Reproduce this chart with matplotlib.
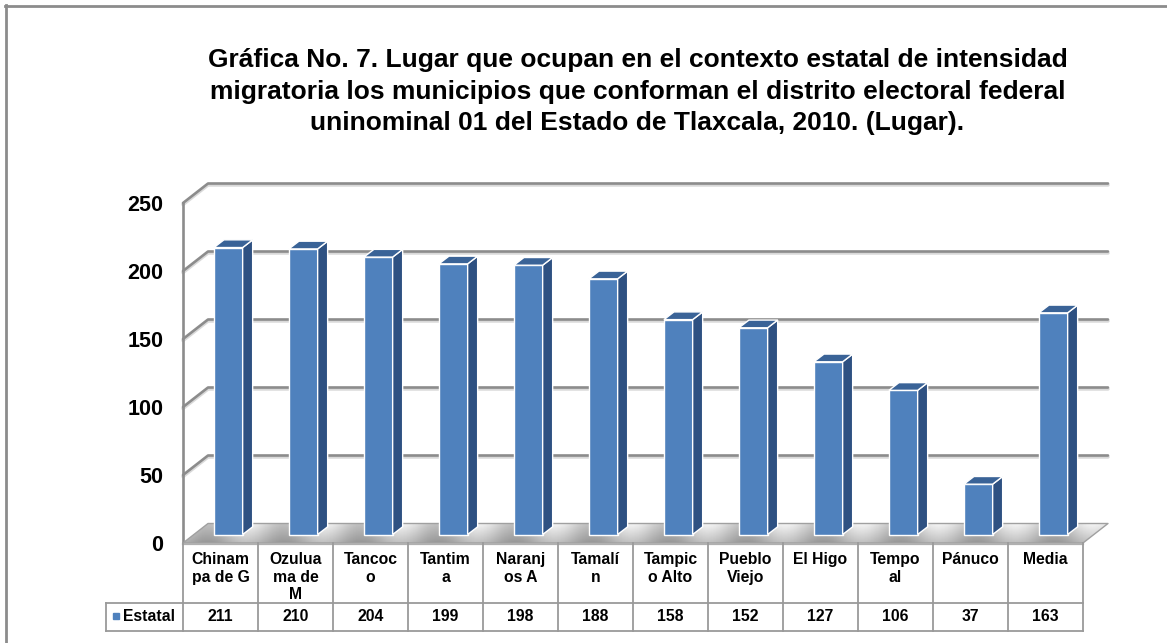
import matplotlib
matplotlib.use('Agg')
import matplotlib.pyplot as plt
from matplotlib.patches import Polygon
from matplotlib.lines import Line2D
import numpy as np

# ---------------- data ----------------
categories = ["Chinam\npa de G", "Ozulua\nma de\nM", "Tancoc\no", "Tantim\na",
              "Naranj\nos A", "Tamalí\nn", "Tampic\no Alto", "Pueblo\nViejo",
              "El Higo", "Tempo\nal", "Pánuco", "Media"]
values = [211, 210, 204, 199, 198, 188, 158, 152, 127, 106, 37, 163]
series_name = "Estatal"
yticks = [0, 50, 100, 150, 200, 250]
title_lines = ["Gráfica No. 7. Lugar que ocupan en el contexto estatal de intensidad",
               "migratoria los municipios que conforman el distrito electoral federal",
               "uninominal 01 del Estado de Tlaxcala, 2010. (Lugar)."]

plt.rcParams['font.family'] = ['Liberation Sans', 'DejaVu Sans']

W, H = 1167, 643
fig = plt.figure(figsize=(W / 100, H / 100), dpi=100)

X0, X1 = 183, 1083      # front plane, pixels
Y0, Ytop = 543, 203
ax = fig.add_axes([X0 / W, (H - Y0) / H, (X1 - X0) / W, (Y0 - Ytop) / H])
n = len(values)
PXX = (X1 - X0) / n
PXY = (Y0 - Ytop) / (yticks[-1] - yticks[0])


def xu(px):
    return px / PXX


def yu(px):
    return px / PXY


for s in ax.spines.values():
    s.set_visible(False)
ax.patch.set_alpha(0)

# wall depth
WDX, WDY = xu(25), yu(19.5)

# floor (gradient clipped to the floor polygon)
floor = [(-0.5, 0), (n - 0.5, 0), (n - 0.5 + WDX, WDY), (-0.5 + WDX, WDY)]
fpoly = Polygon(floor, closed=True, facecolor='none', edgecolor='none', zorder=1.5,
                clip_on=False)
ax.add_patch(fpoly)
gx = np.linspace(0, 1, 600)
pattern = 0.84 + 0.10 * np.cos(gx * np.pi * 2 * n + 1.2)
rows = np.linspace(0.80, 1.02, 20)[:, None]
grad = np.clip(np.tile(pattern, (20, 1)) * rows, 0, 1)
im = ax.imshow(grad, cmap='gray', vmin=0, vmax=1, extent=[-0.5, n - 0.5 + WDX, 0, WDY],
               origin='lower', aspect='auto', zorder=1.5, interpolation='bilinear')
im.set_clip_on(True)
im.set_clip_box(fig.bbox)
im.set_clip_path(fpoly)
ax.plot([-0.5, n - 0.5, n - 0.5 + WDX, -0.5 + WDX, -0.5],
        [0, 0, WDY, WDY, 0], color='#a0a0a0', lw=1.0, clip_on=False, zorder=1.6)
ax.plot([-0.5, n - 0.5], [-yu(0.8), -yu(0.8)], color='#b0b0b0', lw=1.6, clip_on=False,
        zorder=1.6)

ax.set_xlim(-0.5, n - 0.5)
ax.set_ylim(yticks[0], yticks[-1])
ax.set_xticks([])
ax.set_yticks(yticks)
ax.set_yticklabels([str(t) for t in yticks], fontsize=15.5, fontweight='bold')
ax.tick_params(axis='y', length=0, pad=14)

grid_c = '#8c8c8c'
for v in yticks[1:]:
    xs = [-0.5, -0.5 + WDX, n - 0.5 + WDX]
    ys = [v, v + WDY, v + WDY]
    ax.plot(xs, [y - yu(1.5) for y in ys], color='#d9d9d9', lw=2.5, clip_on=False, zorder=1,
            solid_capstyle='round')
    ax.plot(xs, ys, color=grid_c, lw=1.9, clip_on=False, zorder=1.1, solid_capstyle='round')
ax.plot([-0.5, -0.5], [0, yticks[-1]], color=grid_c, lw=1.9, clip_on=False, zorder=1.1)

# bars
BSX, BSY = xu(7.8), yu(8.5)
BW = xu(28.7)
SDX, SDY = xu(10), yu(7.7)
front_c, side_c, top_c = '#4F81BD', '#2E5182', '#3A6397'
x = np.arange(n)
ax.bar(x + BSX, values, width=BW, bottom=BSY, color=front_c, edgecolor='white',
       linewidth=1.0, zorder=3, clip_on=False)
for xi, v in zip(x, values):
    l = xi + BSX - BW / 2
    r = xi + BSX + BW / 2
    b = BSY
    t = BSY + v
    side = Polygon([(r, b), (r + SDX, b + SDY), (r + SDX, t + SDY), (r, t)], closed=True,
                   facecolor=side_c, edgecolor='white', lw=1.0, zorder=3, clip_on=False)
    top = Polygon([(l, t), (l + SDX, t + SDY), (r + SDX, t + SDY), (r, t)], closed=True,
                  facecolor=top_c, edgecolor='white', lw=1.0, zorder=3, clip_on=False)
    ax.add_patch(side)
    ax.add_patch(top)

# data table
tc = '#9a9a9a'
y_hdr = -yu(60)
y_row = -yu(87.5)
xL = -0.5 - xu(77)
for bnd in np.arange(n + 1) - 0.5:
    ax.plot([bnd, bnd], [0, y_row], color=tc, lw=1.3, clip_on=False, zorder=2)
for yy in (y_hdr, y_row):
    ax.plot([xL, n - 0.5], [yy, yy], color=tc, lw=1.3, clip_on=False, zorder=2)
ax.plot([xL, xL], [y_hdr, y_row], color=tc, lw=1.3, clip_on=False, zorder=2)

for xi, lab in zip(x, categories):
    ax.text(xi, -yu(9), lab, ha='center', va='top', fontsize=11.3, fontweight='bold',
            linespacing=1.22, clip_on=False)
ymid = (y_hdr + y_row) / 2
for xi, v in zip(x, values):
    ax.text(xi, ymid, str(v), ha='center', va='center', fontsize=11.3, fontweight='bold',
            clip_on=False)
ax.plot([xL + xu(9.5)], [ymid + yu(1)], marker='s', markersize=4, color=front_c,
        clip_on=False, linestyle='none')
ax.text(xL + xu(17), ymid, series_name, ha='left', va='center', fontsize=11.3,
        fontweight='bold', clip_on=False)

# title
for yb, line in zip([67, 98.5, 130], title_lines):
    fig.text(637.5 / W, 1 - yb / H, line, ha='center', va='baseline', fontsize=19,
             fontweight='bold')

# outer border
fig.add_artist(Line2D([5 / W, 1], [1 - 6 / H, 1 - 6 / H], color='#8c8c8c', lw=2))
fig.add_artist(Line2D([6 / W, 6 / W], [0, 1 - 5 / H], color='#8c8c8c', lw=2))

fig.savefig('out.png', dpi=100)
